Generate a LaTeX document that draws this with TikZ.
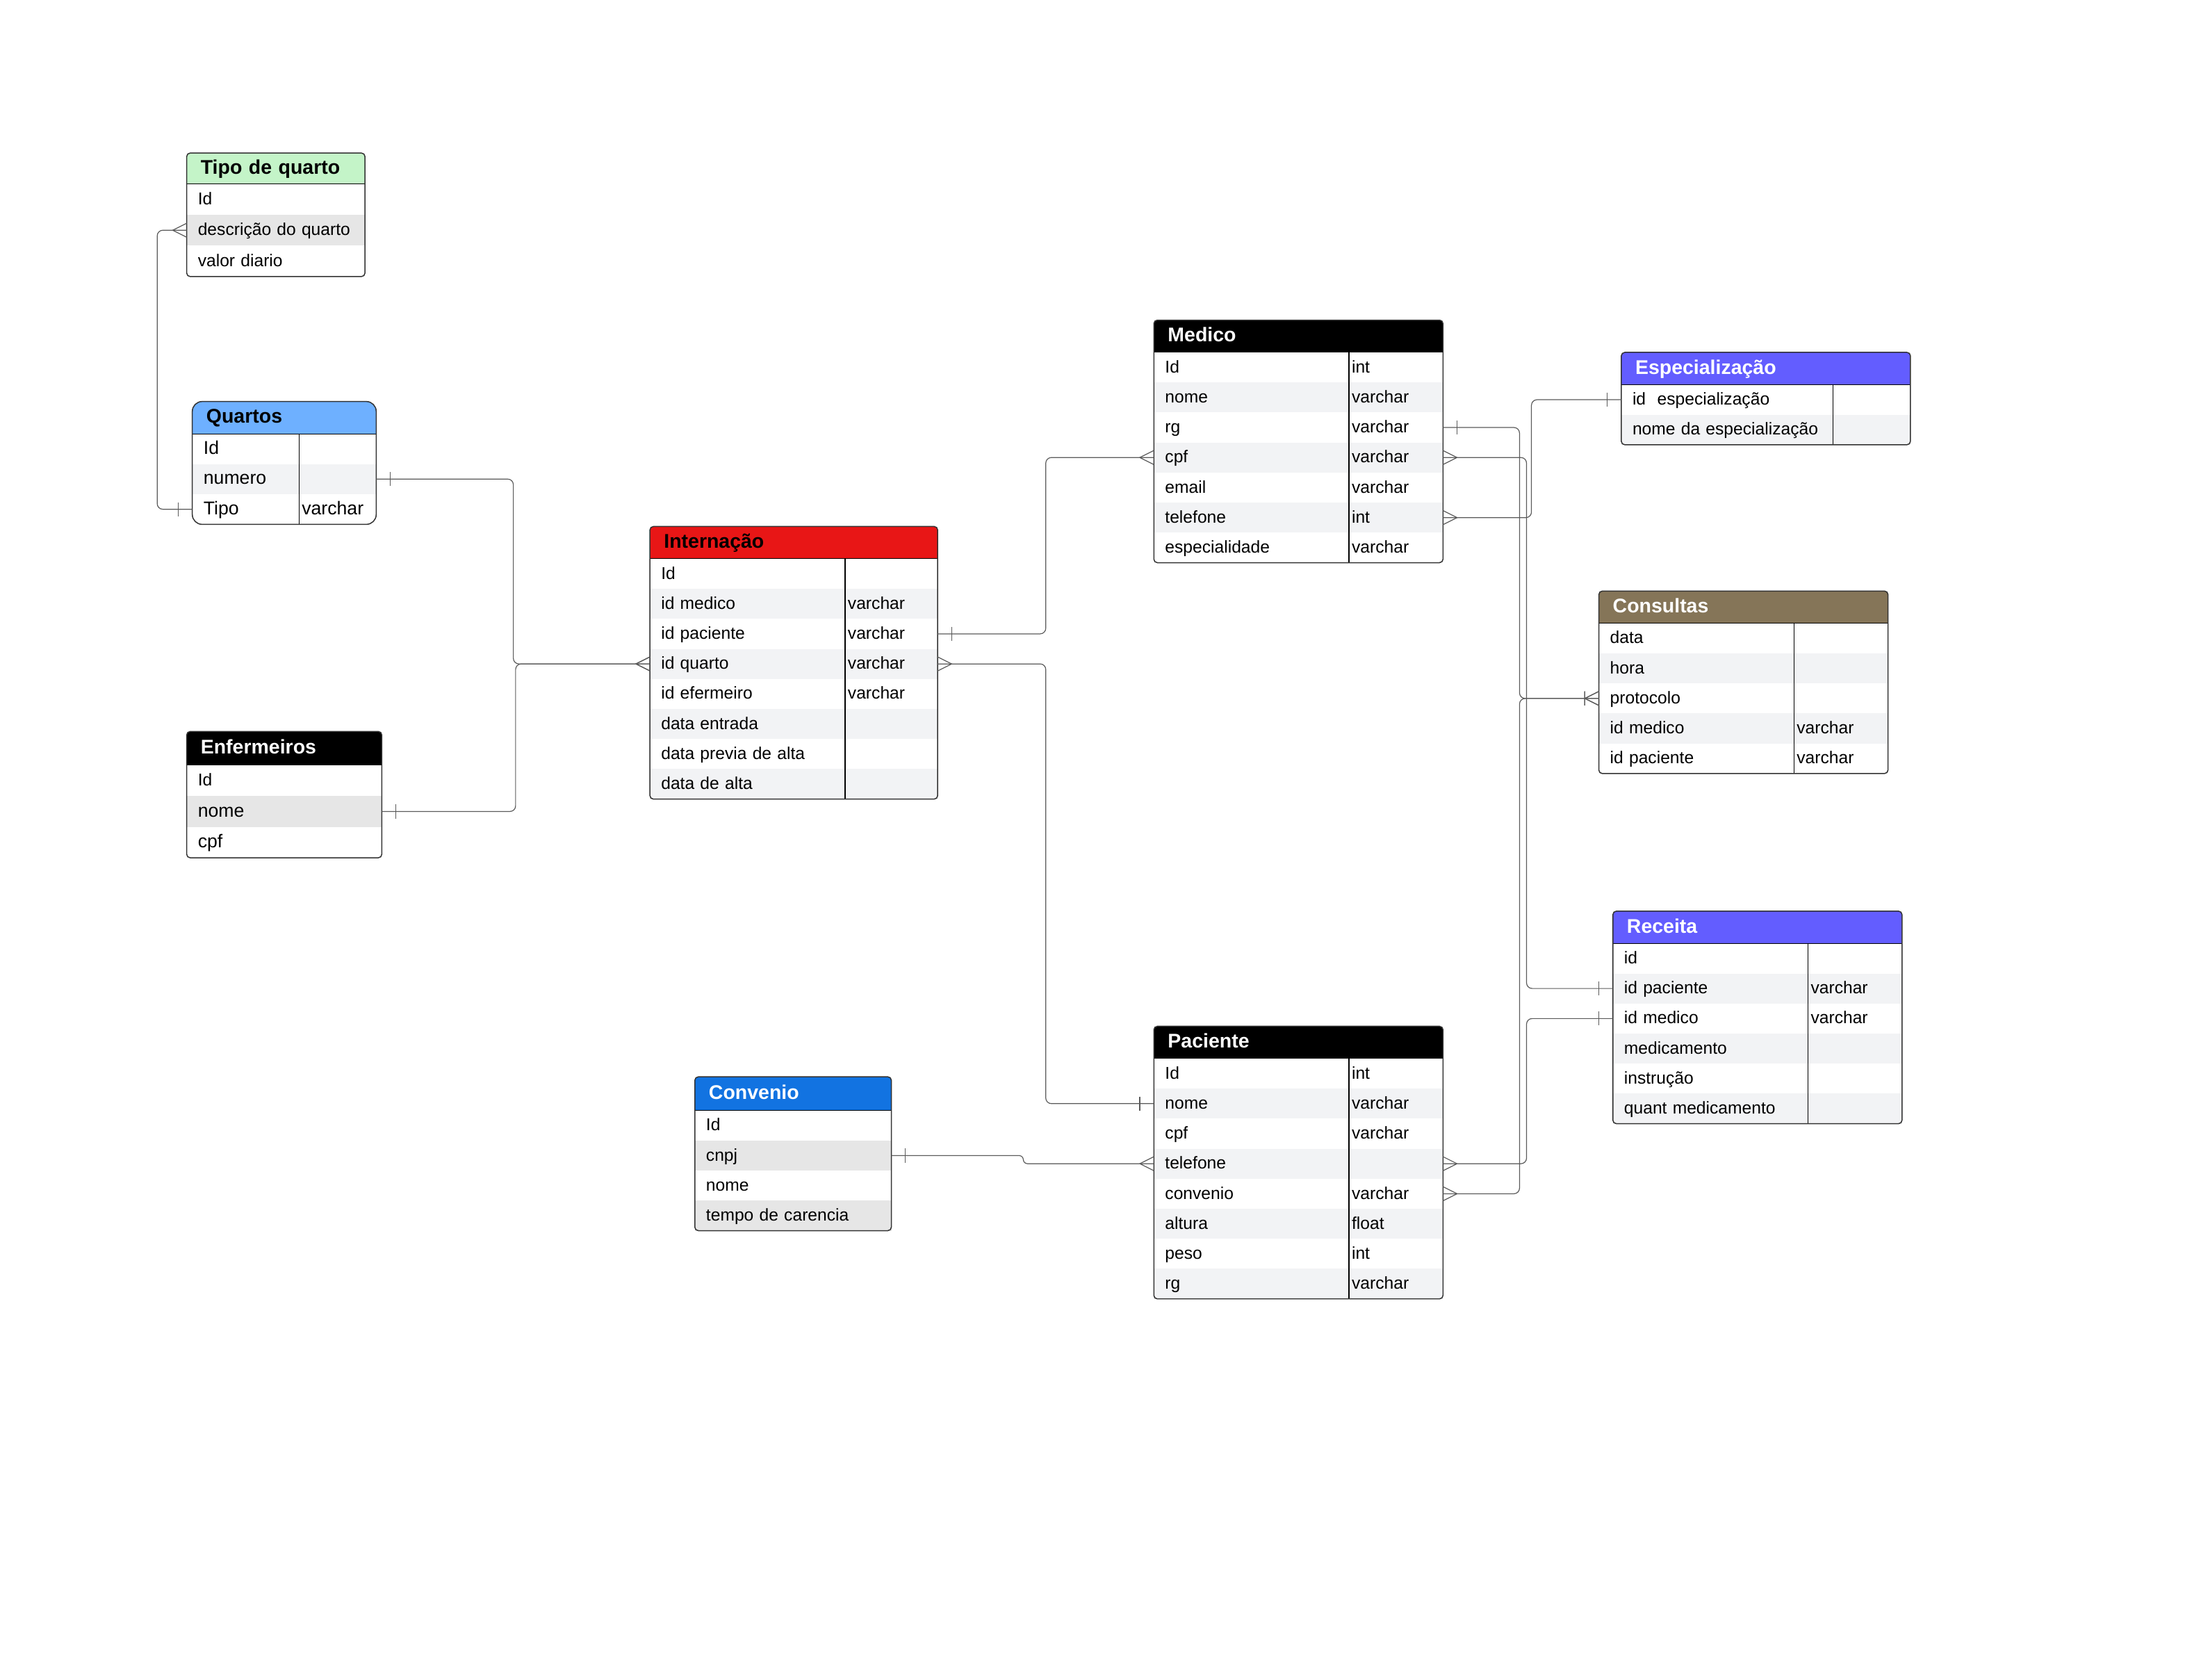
\documentclass[tikz,border=0pt]{standalone}
\usepackage{fontspec}
\setmainfont{Liberation Sans}
\usetikzlibrary{positioning,arrows.meta}

\definecolor{tipoGreen}{RGB}{196,244,200}
\definecolor{quartoBlue}{RGB}{110,176,255}
\definecolor{internRed}{RGB}{232,22,22}
\definecolor{especViolet}{RGB}{99,93,255}
\definecolor{consBrown}{RGB}{133,117,88}
\definecolor{convBlue}{RGB}{18,115,225}
\definecolor{rowLight}{RGB}{242,243,245}
\definecolor{rowDark}{RGB}{230,230,230}
\definecolor{edgeGray}{RGB}{51,51,51}
\definecolor{wireGray}{RGB}{90,90,90}

\newcommand{\fldfont}{\fontsize{12.2}{14}\selectfont}
\newcommand{\bigfldfont}{\fontsize{13.2}{15}\selectfont}
\newcommand{\hdrfont}{\bfseries\fontsize{14.1}{16}\selectfont}
\newcommand{\fld}[3][133pt]{\makebox[#1][l]{#2}#3}

% crow's foot (many), bar (one) and bar + crow's foot (one or many)
\pgfdeclarearrow{
  name = crow,
  setup code = {
    \pgfarrowssettipend{0pt}
    \pgfarrowssetlineend{0pt}
    \pgfarrowssetbackend{-10pt}
    \pgfarrowshullpoint{0pt}{5pt}
    \pgfarrowshullpoint{0pt}{-5pt}
    \pgfarrowshullpoint{-10pt}{0pt}
  },
  drawing code = {
    \pgfpathmoveto{\pgfqpoint{0pt}{5pt}}
    \pgfpathlineto{\pgfqpoint{-10pt}{0pt}}
    \pgfpathlineto{\pgfqpoint{0pt}{-5pt}}
    \pgfusepathqstroke
  }
}
\pgfdeclarearrow{
  name = onebar,
  setup code = {
    \pgfarrowssettipend{0pt}
    \pgfarrowssetlineend{0pt}
    \pgfarrowssetbackend{-10pt}
    \pgfarrowshullpoint{-10pt}{5pt}
    \pgfarrowshullpoint{-10pt}{-5pt}
  },
  drawing code = {
    \pgfpathmoveto{\pgfqpoint{-10pt}{5pt}}
    \pgfpathlineto{\pgfqpoint{-10pt}{-5pt}}
    \pgfusepathqstroke
  }
}
\pgfdeclarearrow{
  name = manybar,
  setup code = {
    \pgfarrowssettipend{0pt}
    \pgfarrowssetlineend{0pt}
    \pgfarrowssetbackend{-10pt}
    \pgfarrowshullpoint{0pt}{5pt}
    \pgfarrowshullpoint{0pt}{-5pt}
    \pgfarrowshullpoint{-10pt}{5pt}
    \pgfarrowshullpoint{-10pt}{-5pt}
  },
  drawing code = {
    \pgfpathmoveto{\pgfqpoint{0pt}{5pt}}
    \pgfpathlineto{\pgfqpoint{-10pt}{0pt}}
    \pgfpathlineto{\pgfqpoint{0pt}{-5pt}}
    \pgfpathmoveto{\pgfqpoint{-10pt}{5pt}}
    \pgfpathlineto{\pgfqpoint{-10pt}{-5pt}}
    \pgfusepathqstroke
  }
}

\tikzset{
  header/.style={rectangle, anchor=north west, outer sep=0pt, inner xsep=10pt, inner ysep=0pt,
    minimum height=23pt, text height=10.1pt, text depth=2.1pt, align=left, font=\hdrfont, text width=#1},
  headfill/.style 2 args={path picture={
    \fill[#1, rounded corners=#2] (path picture bounding box.north west) rectangle (path picture bounding box.south east);
    \fill[#1] (path picture bounding box.west) rectangle (path picture bounding box.south east);}},
  field/.style={rectangle, outer sep=0pt, inner xsep=8pt, inner ysep=0pt, minimum height=21.4pt,
    text height=8.7pt, text depth=1.2pt, align=left, font=\fldfont, text width=#1},
  zebra/.style={fill=rowLight},
  zebradark/.style={fill=rowDark},
  frame/.style={draw=edgeGray, line width=0.75pt, rounded corners=2.5pt},
  rule/.style={draw=black, line width=0.6pt},
  line/.style={draw=wireGray, line width=0.6pt, rounded corners=4pt},
}

\begin{document}
\begin{tikzpicture}[x=1pt, y=-1pt]
  \useasboundingbox (0,0) rectangle (1568,1196.2);

  % Tipo de quarto
  \node [header=107pt, headfill={tipoGreen}{2.5pt}, minimum height=22pt] (tipo) at (133,109) {Tipo de quarto};
  \node [field=111pt, minimum height=22pt, below=0pt of tipo] (tipoId) {Id};
  \node [field=111pt, minimum height=22pt, zebradark, below=0pt of tipoId] (tipoDesc) {descrição do quarto};
  \node [field=111pt, minimum height=22pt, below=0pt of tipoDesc] (tipoValor) {valor diario};
  \draw [rule] (tipo.south west) -- (tipo.south east);
  \draw [frame] (tipo.north west) rectangle (tipoValor.south east);

  % Quartos
  \node [header=111pt, headfill={quartoBlue}{7pt}] (quartos) at (137,286) {Quartos};
  \node [field=115pt, font=\bigfldfont, minimum height=21.5pt, below=0pt of quartos] (quartosId) {Id};
  \node [field=115pt, font=\bigfldfont, minimum height=21.5pt, zebra, below=0pt of quartosId] (quartosNumero) {numero};
  \node [field=115pt, font=\bigfldfont, minimum height=21.5pt, below=0pt of quartosNumero] (quartosTipo) {\fld[70pt]{Tipo}{varchar}};
  \draw [rule] (quartos.south west) -- (quartos.south east);
  \draw [rule] ([xshift=76pt]quartosId.north west) -- ([xshift=76pt]quartosTipo.south west);
  \draw [frame, rounded corners=7pt] (quartos.north west) rectangle (quartosTipo.south east);

  % Internação
  \node [header=185pt, headfill={internRed}{2.5pt}] (intern) at (463,375) {Internação};
  \node [field=189pt, below=0pt of intern] (internId) {Id};
  \node [field=189pt, zebra, below=0pt of internId] (internMedico) {\fld{id medico}{varchar}};
  \node [field=189pt, below=0pt of internMedico] (internPaciente) {\fld{id paciente}{varchar}};
  \node [field=189pt, zebra, below=0pt of internPaciente] (internQuarto) {\fld{id quarto}{varchar}};
  \node [field=189pt, below=0pt of internQuarto] (internEnf) {\fld{id efermeiro}{varchar}};
  \node [field=189pt, zebra, below=0pt of internEnf] (internEntrada) {data entrada};
  \node [field=189pt, below=0pt of internEntrada] (internPrevia) {data previa de alta};
  \node [field=189pt, zebra, below=0pt of internPrevia] (internAlta) {data de alta};
  \draw [rule] (intern.south west) -- (intern.south east);
  \draw [rule] ([xshift=139pt]internId.north west) -- ([xshift=139pt]internAlta.south west);
  \draw [frame] (intern.north west) rectangle (internAlta.south east);

  % Enfermeiros
  \node [header=119pt, headfill={black}{2.5pt}, text=white, minimum height=24pt] (enf) at (133,521) {Enfermeiros};
  \node [field=123pt, minimum height=22pt, below=0pt of enf] (enfId) {Id};
  \node [field=123pt, minimum height=22pt, font=\bigfldfont, zebradark, below=0pt of enfId] (enfNome) {nome};
  \node [field=123pt, minimum height=22pt, font=\bigfldfont, below=0pt of enfNome] (enfCpf) {cpf};
  \draw [frame] (enf.north west) rectangle (enfCpf.south east);

  % Medico
  \node [header=186pt, headfill={black}{2.5pt}, text=white] (medico) at (822,228) {Medico};
  \node [field=190pt, below=0pt of medico] (medicoId) {\fld{Id}{int}};
  \node [field=190pt, zebra, below=0pt of medicoId] (medicoNome) {\fld{nome}{varchar}};
  \node [field=190pt, below=0pt of medicoNome] (medicoRg) {\fld{rg}{varchar}};
  \node [field=190pt, zebra, below=0pt of medicoRg] (medicoCpf) {\fld{cpf}{varchar}};
  \node [field=190pt, below=0pt of medicoCpf] (medicoEmail) {\fld{email}{varchar}};
  \node [field=190pt, zebra, below=0pt of medicoEmail] (medicoTel) {\fld{telefone}{int}};
  \node [field=190pt, below=0pt of medicoTel] (medicoEsp) {\fld{especialidade}{varchar}};
  \draw [rule] ([xshift=139pt]medicoId.north west) -- ([xshift=139pt]medicoEsp.south west);
  \draw [frame] (medico.north west) rectangle (medicoEsp.south east);

  % Especialização
  \node [header=186pt, headfill={especViolet}{2.5pt}, text=white] (esp) at (1155,251) {Especialização};
  \node [field=190pt, below=0pt of esp] (espId) {id\ \ especialização};
  \node [field=190pt, zebra, below=0pt of espId] (espNome) {nome da especialização};
  \draw [rule] (esp.south west) -- (esp.south east);
  \draw [rule] ([xshift=151pt]espId.north west) -- ([xshift=151pt]espNome.south west);
  \draw [frame] (esp.north west) rectangle (espNome.south east);

  % Consultas
  \node [header=186pt, headfill={consBrown}{2.5pt}, text=white] (cons) at (1139,421) {Consultas};
  \node [field=190pt, below=0pt of cons] (consData) {data};
  \node [field=190pt, zebra, below=0pt of consData] (consHora) {hora};
  \node [field=190pt, below=0pt of consHora] (consProtocolo) {protocolo};
  \node [field=190pt, zebra, below=0pt of consProtocolo] (consMedico) {\fld{id medico}{varchar}};
  \node [field=190pt, below=0pt of consMedico] (consPaciente) {\fld{id paciente}{varchar}};
  \draw [rule] (cons.south west) -- (cons.south east);
  \draw [rule] ([xshift=139pt]consData.north west) -- ([xshift=139pt]consPaciente.south west);
  \draw [frame] (cons.north west) rectangle (consPaciente.south east);

  % Receita
  \node [header=186pt, headfill={especViolet}{2.5pt}, text=white] (receita) at (1149,649) {Receita};
  \node [field=190pt, below=0pt of receita] (receitaId) {id};
  \node [field=190pt, zebra, below=0pt of receitaId] (receitaPac) {\fld{id paciente}{varchar}};
  \node [field=190pt, below=0pt of receitaPac] (receitaMed) {\fld{id medico}{varchar}};
  \node [field=190pt, zebra, below=0pt of receitaMed] (receitaRemedio) {medicamento};
  \node [field=190pt, below=0pt of receitaRemedio] (receitaInstr) {instrução};
  \node [field=190pt, zebra, below=0pt of receitaInstr] (receitaQuant) {quant medicamento};
  \draw [rule] (receita.south west) -- (receita.south east);
  \draw [rule] ([xshift=139pt]receitaId.north west) -- ([xshift=139pt]receitaQuant.south west);
  \draw [frame] (receita.north west) rectangle (receitaQuant.south east);

  % Paciente
  \node [header=186pt, headfill={black}{2.5pt}, text=white] (paciente) at (822,731) {Paciente};
  \node [field=190pt, below=0pt of paciente] (pacienteId) {\fld{Id}{int}};
  \node [field=190pt, zebra, below=0pt of pacienteId] (pacienteNome) {\fld{nome}{varchar}};
  \node [field=190pt, below=0pt of pacienteNome] (pacienteCpf) {\fld{cpf}{varchar}};
  \node [field=190pt, zebra, below=0pt of pacienteCpf] (pacienteTel) {telefone};
  \node [field=190pt, below=0pt of pacienteTel] (pacienteConv) {\fld{convenio}{varchar}};
  \node [field=190pt, zebra, below=0pt of pacienteConv] (pacienteAltura) {\fld{altura}{float}};
  \node [field=190pt, below=0pt of pacienteAltura] (pacientePeso) {\fld{peso}{int}};
  \node [field=190pt, zebra, below=0pt of pacientePeso] (pacienteRg) {\fld{rg}{varchar}};
  \draw [rule] ([xshift=139pt]pacienteId.north west) -- ([xshift=139pt]pacienteRg.south west);
  \draw [frame] (paciente.north west) rectangle (pacienteRg.south east);

  % Convenio
  \node [header=120pt, headfill={convBlue}{2.5pt}, text=white, minimum height=24pt] (conv) at (495,767) {Convenio};
  \node [field=124pt, below=0pt of conv] (convId) {Id};
  \node [field=124pt, zebradark, below=0pt of convId] (convCnpj) {cnpj};
  \node [field=124pt, below=0pt of convCnpj] (convNome) {nome};
  \node [field=124pt, zebradark, below=0pt of convNome] (convCarencia) {tempo de carencia};
  \draw [rule] (conv.south west) -- (conv.south east);
  \draw [frame] (conv.north west) rectangle (convCarencia.south east);

  % relacionamentos
  \path [line, crow-onebar] (tipoDesc.west) -- ++(-21,0) |- (quartosTipo.west);
  \path [line, onebar-crow] (quartosNumero.east) -- ++(97.7,0) |- (internQuarto.west);
  \path [line, onebar-crow] (enfNome.east) -- ++(95.3,0) |- (internQuarto.west);
  \path [line, onebar-crow] (internPaciente.east) -- ++(77,0) |- (medicoCpf.west);
  \path [line, crow-onebar] (internQuarto.east) -- ++(77,0) |- (pacienteNome.west);
  \path [line, rounded corners=3pt, onebar-crow] (convCnpj.east) -- ++(94,0) |- (pacienteTel.west);
  \path [line, onebar-manybar] (medicoRg.east) -- ++(54.5,0) |- (consProtocolo.west);
  \path [line, crow-manybar] (pacienteConv.east) -- ++(54.5,0) |- (consProtocolo.west);
  \path [line, crow-onebar] (medicoCpf.east) -- ++(59.5,0) |- (receitaPac.west);
  \path [line, crow-onebar] (pacienteTel.east) -- ++(59.5,0) |- (receitaMed.west);
  \path [line, crow-onebar] (medicoTel.east) -- ++(63,0) |- (espId.west);
\end{tikzpicture}
\end{document}
